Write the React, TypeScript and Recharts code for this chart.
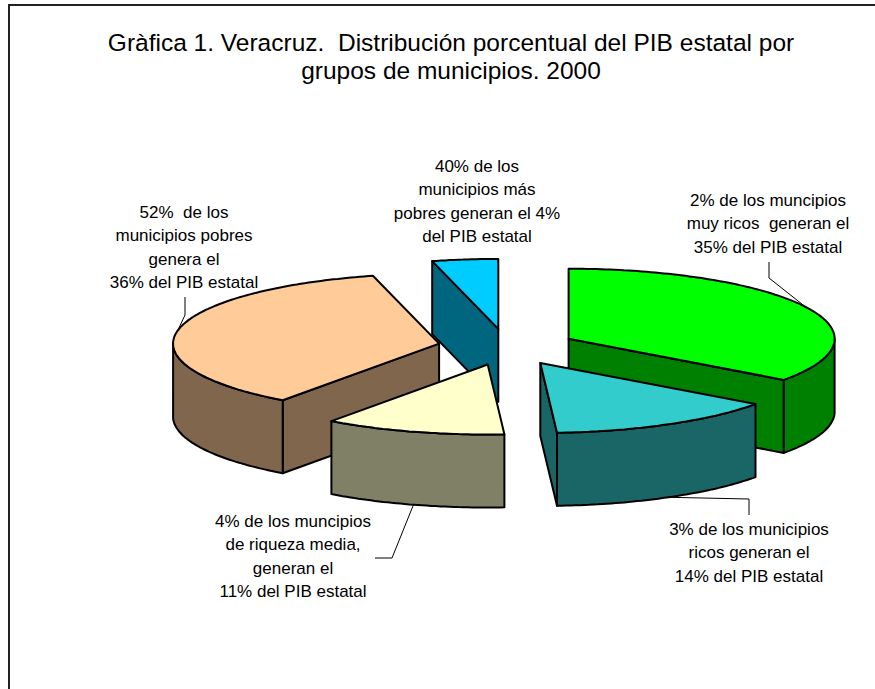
import React from "react"
import { Pie, PieChart } from "recharts"

// Veracruz 2000: share of state GDP by municipality group
const grupos = ["masPobres", "pobres", "riquezaMedia", "ricos", "muyRicos"]
const pibPct = [4, 36, 11, 14, 35]
const etiquetas = [
  ["40% de los", "municipios más", "pobres generan el 4%", "del PIB estatal"],
  ["52%  de los", "municipios pobres", "genera el", "36% del PIB estatal"],
  ["4% de los muncipios", "de riqueza media,", "generan el", "11% del PIB estatal"],
  ["3% de los municipios", "ricos generan el", "14% del PIB estatal"],
  ["2% de los muncipios", "muy ricos  generan el", "35% del PIB estatal"],
]

const data = grupos.map((grupo, i) => ({ grupo, value: pibPct[i] }))

const tapa: Record<string, string> = {
  masPobres: "#00CCFF",
  pobres: "#FFCC99",
  riquezaMedia: "#FFFFCC",
  ricos: "#33CCCC",
  muyRicos: "#00FF00",
}
const costado: Record<string, string> = {
  masPobres: "#006680",
  pobres: "#80664D",
  riquezaMedia: "#808066",
  ricos: "#1A6666",
  muyRicos: "#008000",
}

// slices further back are painted first
const capaFondo = ["masPobres", "pobres", "muyRicos"]
const capaFrente = ["riquezaMedia", "ricos"]

const TILT = 70 / 266
const DEPTH = 73 / 266
const EXPLODE = 0.26
const RAD = Math.PI / 180
const FONT = "'Liberation Sans', Arial, sans-serif"

// where each callout sits (text centre, first baseline, leader elbow points)
const rotulos: Record<string, { x: number; y: number; ancla: "top" | "bottom" | null; guia: number[][] }> = {
  masPobres: { x: 477, y: 172, ancla: null, guia: [] },
  pobres: { x: 184, y: 218, ancla: "top", guia: [[185, 315], [185, 297]] },
  riquezaMedia: { x: 293, y: 527, ancla: "bottom", guia: [[392, 558], [375, 558]] },
  ricos: { x: 749, y: 535, ancla: "bottom", guia: [[749, 499], [749, 515]] },
  muyRicos: { x: 768, y: 206, ancla: "top", guia: [[769, 278], [769, 262]] },
}

function geom(cx: number, cy: number, r: number, mid: number) {
  const ry = r * TILT
  const ox = cx + EXPLODE * r * Math.cos(mid * RAD)
  const oy = cy - EXPLODE * ry * Math.sin(mid * RAD)
  const at = (a: number, down = 0) => [ox + r * Math.cos(a * RAD), oy - ry * Math.sin(a * RAD) + down]
  return { ox, oy, h: r * DEPTH, at }
}

function arco(at: (a: number, d?: number) => number[], a1: number, a2: number, down = 0) {
  const n = Math.max(2, Math.ceil(Math.abs(a2 - a1)))
  const pts: number[][] = []
  for (let i = 0; i <= n; i++) pts.push(at(a1 + ((a2 - a1) * i) / n, down))
  return pts
}

const toPath = (pts: number[][]) =>
  "M" + pts.map((p) => p[0].toFixed(1) + "," + p[1].toFixed(1)).join("L") + "Z"

function grupoDe(props: any) {
  return props.grupo ?? props.payload?.grupo
}

function makeSlice(capa: string[]) {
  return (props: any) => {
    const g = grupoDe(props)
    if (!capa.includes(g)) return <g />
    const { cx, cy, outerRadius } = props
    const a1 = Math.min(props.startAngle, props.endAngle)
    const a2 = Math.max(props.startAngle, props.endAngle)
    const mid = props.midAngle ?? (a1 + a2) / 2
    const { ox, oy, h, at } = geom(cx, cy, outerRadius, mid)
    const stroke = { stroke: "#000", strokeWidth: 2, strokeLinejoin: "round" as const }
    const caras: React.ReactNode[] = []

    const radial = (a: number, k: string) => {
      const p = at(a)
      caras.push(
        <path key={k} d={toPath([[ox, oy], p, [p[0], p[1] + h], [ox, oy + h]])} fill={costado[g]} {...stroke} />
      )
    }
    if (Math.cos(a1 * RAD) > 0.001) radial(a1, "r1")
    if (Math.cos(a2 * RAD) < -0.001) radial(a2, "r2")

    for (const k of [-1, 0, 1]) {
      const w1 = Math.max(a1, k * 360 + 180)
      const w2 = Math.min(a2, k * 360 + 360)
      if (w2 - w1 > 0.01) {
        const pts = [...arco(at, w1, w2), ...arco(at, w2, w1, h)]
        caras.push(<path key={"w" + k} d={toPath(pts)} fill={costado[g]} {...stroke} />)
      }
    }

    caras.push(<path key="top" d={toPath([[ox, oy], ...arco(at, a1, a2)])} fill={tapa[g]} {...stroke} />)
    return <g>{caras}</g>
  }
}

function Rotulo(props: any) {
  const g = grupoDe(props)
  const idx = grupos.indexOf(g)
  const cfg = rotulos[g]
  if (!cfg) return <g />
  const { cx, cy, outerRadius, midAngle } = props
  const { h, at } = geom(cx, cy, outerRadius, midAngle)
  let guia: React.ReactNode = null
  if (cfg.ancla) {
    const p = at(midAngle, cfg.ancla === "bottom" ? h : 0)
    const pts = [p, ...cfg.guia].map((q) => q[0] + "," + q[1]).join(" ")
    guia = <polyline points={pts} fill="none" stroke="#000" strokeWidth={1} />
  }
  return (
    <g>
      {guia}
      {etiquetas[idx].map((linea, i) => (
        <text
          key={i}
          x={cfg.x}
          y={cfg.y + i * 23.3}
          textAnchor="middle"
          fontFamily={FONT}
          fontSize={17}
          fill="#000"
          style={{ whiteSpace: "pre" }}
        >
          {linea}
        </text>
      ))}
    </g>
  )
}

export default function App() {
  return (
    <div style={{ position: "absolute", left: 0, top: 0, width: 875, height: 689, background: "#fff", overflow: "hidden" }}>
      <div
        style={{
          position: "absolute",
          left: 8,
          top: 4,
          width: 875,
          height: 700,
          borderLeft: "2px solid #222",
          borderTop: "2px solid #222",
        }}
      />
      <div
        style={{
          position: "absolute",
          left: 51,
          top: 29,
          width: 800,
          textAlign: "center",
          fontFamily: FONT,
          fontSize: 24.5,
          lineHeight: "27.5px",
          whiteSpace: "pre",
          color: "#000",
        }}
      >
        {"Gràfica 1. Veracruz.  Distribución porcentual del PIB estatal por\ngrupos de municipios. 2000"}
      </div>
      <div style={{ position: "absolute", left: 0, top: 0 }}>
        <PieChart width={875} height={689}>
          <Pie
            data={data}
            dataKey="value"
            cx={502}
            cy={342}
            outerRadius={266}
            startAngle={90}
            endAngle={450}
            stroke="none"
            isAnimationActive={false}
            shape={makeSlice(capaFondo)}
            activeShape={makeSlice(capaFondo)}
          />
          <Pie
            data={data}
            dataKey="value"
            cx={502}
            cy={342}
            outerRadius={266}
            startAngle={90}
            endAngle={450}
            stroke="none"
            isAnimationActive={false}
            shape={makeSlice(capaFrente)}
            activeShape={makeSlice(capaFrente)}
            label={Rotulo}
            labelLine={false}
          />
        </PieChart>
      </div>
    </div>
  )
}
